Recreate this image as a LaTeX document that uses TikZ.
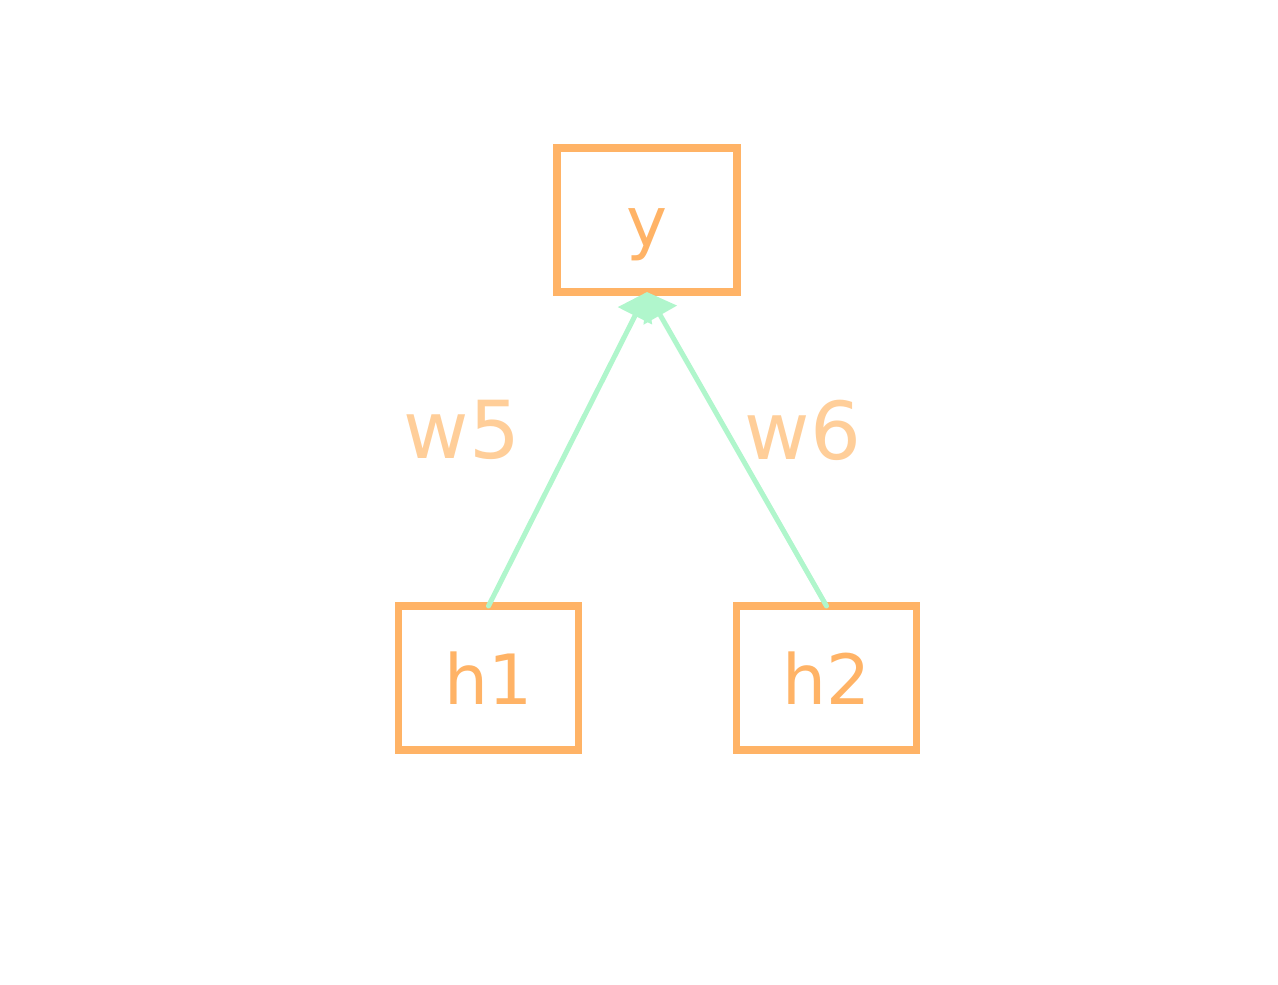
\documentclass[tikz,border=0pt]{standalone}
\usepackage{fontspec}
\setmainfont{DejaVu Sans}
\usetikzlibrary{arrows.meta}
\definecolor{boxorange}{RGB}{255,179,102}
\definecolor{labelorange}{RGB}{255,206,153}
\definecolor{edgegreen}{RGB}{176,246,204}

\begin{document}
\begin{tikzpicture}[
    x=0.75pt, y=-0.75pt,
    unit/.style={draw=boxorange, line width=5.5pt, minimum width=135pt,
    minimum height=108pt, inner sep=0pt, outer sep=0pt, text=boxorange,
    text height=39pt, text depth=0pt, font=\fontsize{52}{58}\selectfont},
    weight/.style={text=labelorange, font=\fontsize{60}{66}\selectfont},
    edge/.style={draw=edgegreen, line width=3.75pt, line cap=round,
    -{Triangle[width=28pt, length=20pt]}}
    ]
    % canvas
    \useasboundingbox (0,0) rectangle (1278,985);
    % Units
    \node[unit] (y) at (647,220) {y};
    \node[unit] (h1) at (488.5,678) {h1};
    \node[unit] (h2) at (826.5,678) {h2};
    % Weights
    \node[weight] (w5) at (462,430) {w5};
    \node[weight] (w6) at (803,430) {w6};
    % Edges
    \draw[edge] (h1.north) -- (y.south);
    \draw[edge] (h2.north) -- (y.south);
\end{tikzpicture}
\end{document}
